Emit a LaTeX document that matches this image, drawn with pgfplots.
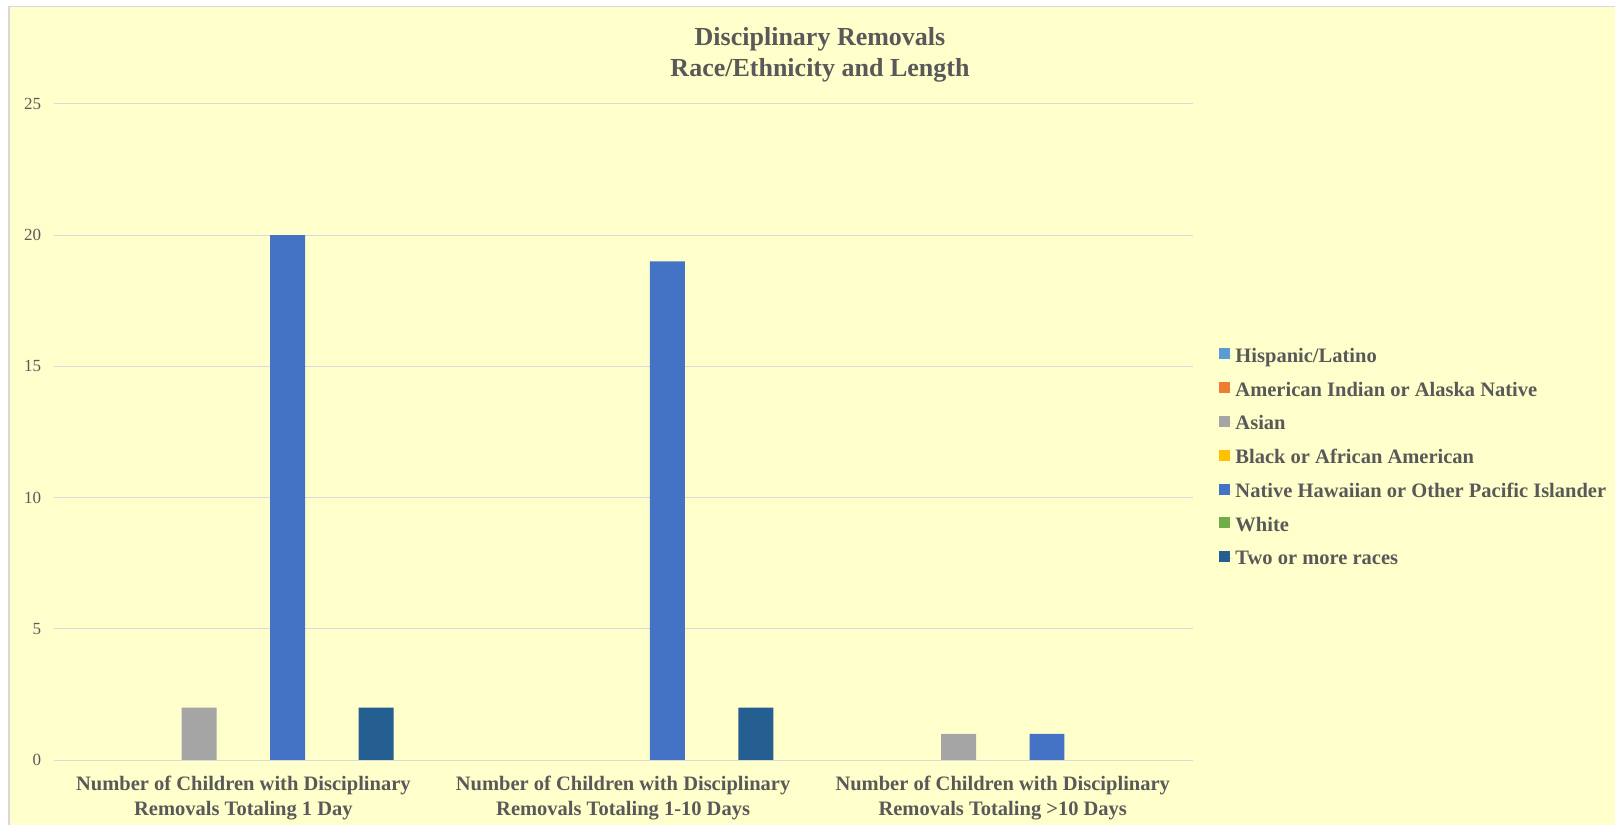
\documentclass[border=0pt]{standalone}
\usepackage{pgfplots}
\pgfplotsset{compat=1.18}
\usepackage{fontspec}
\setmainfont{Liberation Serif}
\definecolor{bgy}{HTML}{FFFFCC}
\definecolor{gridc}{HTML}{D9D9D9}
\definecolor{txt}{HTML}{595959}
\definecolor{cHis}{HTML}{5B9BD5}
\definecolor{cAmi}{HTML}{ED7D31}
\definecolor{cAsi}{HTML}{A5A5A5}
\definecolor{cBla}{HTML}{FFC000}
\definecolor{cNhp}{HTML}{4472C4}
\definecolor{cWhi}{HTML}{70AD47}
\definecolor{cTwo}{HTML}{255E91}
\begin{document}
\begin{tikzpicture}
\path[use as bounding box] (0,0) rectangle (1615bp,825bp);
\fill[bgy] (9bp,0) rectangle (1615bp,818.5bp);
\draw[gridc,line width=1.2bp] (9bp,0) -- (9bp,818.5bp) -- (1615bp,818.5bp);
\node[align=center,text=txt,font=\fontsize{26bp}{31bp}\selectfont\bfseries] at (820bp,770.5bp) {Disciplinary Removals\\Race/Ethnicity and Length};
\begin{axis}[
  at={(53.6bp,65bp)}, anchor=south west,
  scale only axis, width=1139bp, height=656bp,
  xmin=-0.5, xmax=2.5, ymin=0, ymax=25,
  ytick={0,5,10,15,20,25},
  xtick={0,1,2},
  xticklabels={{Number of Children with Disciplinary\\Removals Totaling 1 Day},{Number of Children with Disciplinary\\Removals Totaling 1-10 Days},{Number of Children with Disciplinary\\Removals Totaling >10 Days}},
  x tick label style={align=center, text=txt, font=\fontsize{20.5bp}{24.5bp}\selectfont\bfseries, yshift=-13bp},
  y tick label style={text=txt, font=\fontsize{17bp}{20bp}\selectfont, xshift=-9bp},
  /pgf/number format/assume math mode=true,
  major tick length=0pt,
  axis line style={draw=none},
  ymajorgrids, grid style={gridc, line width=1bp},
  ybar, bar width=0.0921,
  legend cell align=left,
  legend style={draw=none, fill=none, at={(1.023,0.462)}, anchor=west, inner sep=0pt,
    font=\fontsize{20.5bp}{24.5bp}\selectfont\bfseries, text=txt,
    row sep=13bp, nodes={inner sep=2.5bp}},
  legend image code/.code={\fill[#1] (0bp,-3.5bp) rectangle (11bp,7.5bp); \path (0bp,0bp) -- (14bp,0bp);},
]
\addplot[fill=cHis, draw=none, bar shift=-0.3495] coordinates {(0,0) (1,0) (2,0)};
\addplot[fill=cAmi, draw=none, bar shift=-0.233] coordinates {(0,0) (1,0) (2,0)};
\addplot[fill=cAsi, draw=none, bar shift=-0.1165] coordinates {(0,2) (1,0) (2,1)};
\addplot[fill=cBla, draw=none, bar shift=0] coordinates {(0,0) (1,0) (2,0)};
\addplot[fill=cNhp, draw=none, bar shift=0.1165] coordinates {(0,20) (1,19) (2,1)};
\addplot[fill=cWhi, draw=none, bar shift=0.233] coordinates {(0,0) (1,0) (2,0)};
\addplot[fill=cTwo, draw=none, bar shift=0.3495] coordinates {(0,2) (1,2) (2,0)};
\legend{Hispanic/Latino, American Indian or Alaska Native, Asian, Black or African American, Native Hawaiian or Other Pacific Islander, White, Two or more races}
\end{axis}
\end{tikzpicture}
\end{document}
